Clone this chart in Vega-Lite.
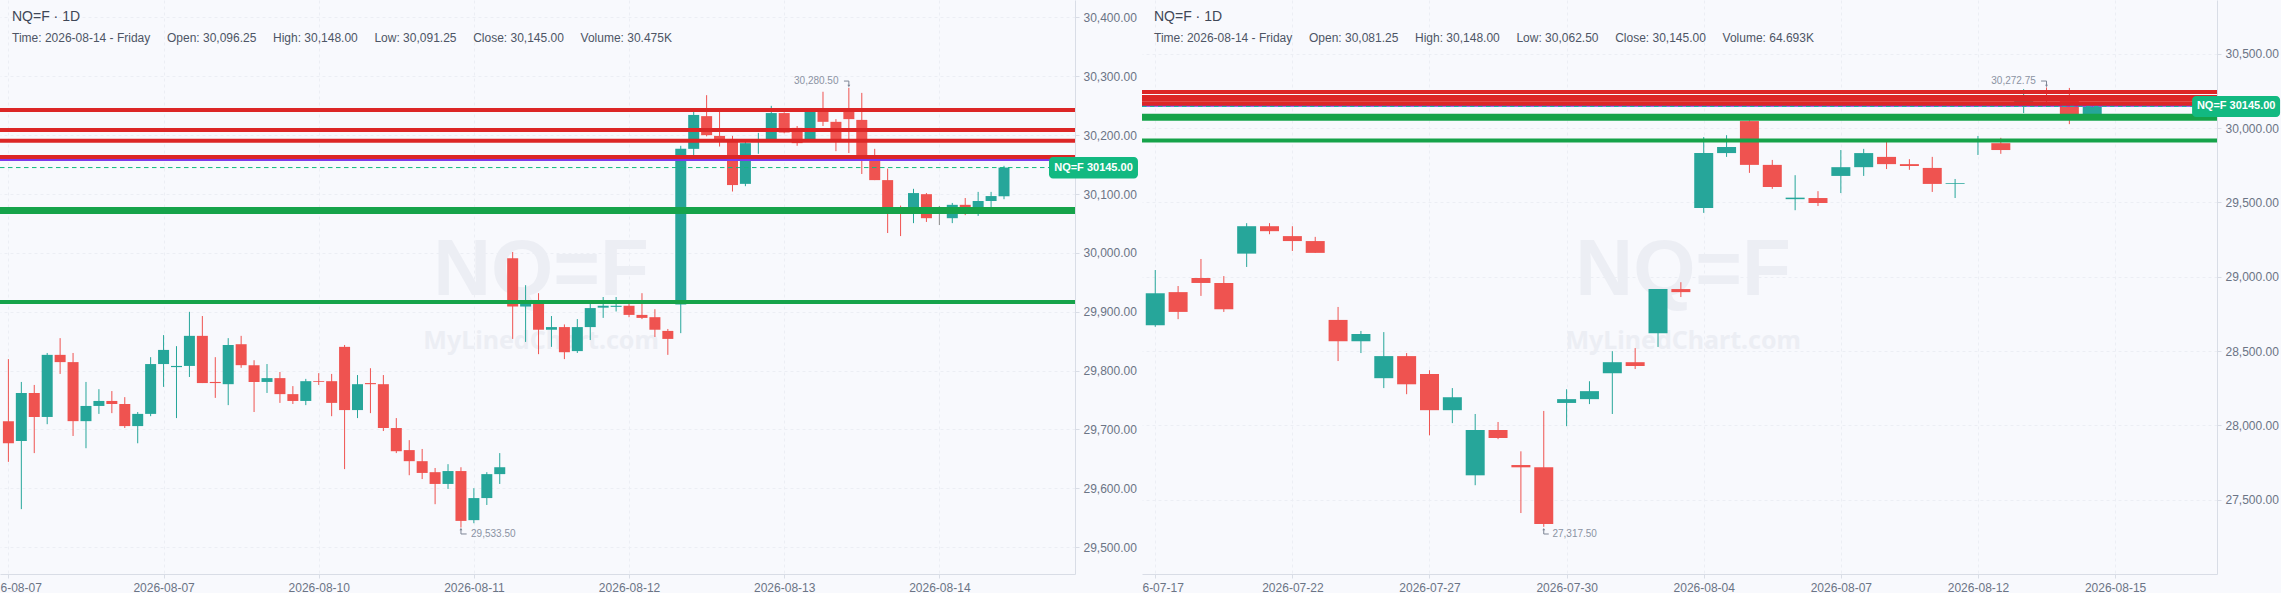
{
  "$schema": "https://vega.github.io/schema/vega-lite/v6.json",
  "background": "#f8f9fd",
  "padding": 0,
  "spacing": 67,
  "bounds": "flush",
  "config": {
    "view": {"stroke": null},
    "font": "Liberation Sans",
    "axis": {
      "title": null,
      "labelFont": "Liberation Sans",
      "labelFontSize": 12,
      "labelColor": "#6b7485",
      "labelOverlap": false,
      "labelBound": false,
      "labelFlush": false,
      "labelPadding": 4,
      "domainColor": "#d9dde6",
      "tickColor": "#d9dde6",
      "tickSize": 4,
      "gridColor": "#eceef4",
      "gridDash": [3, 3]
    },
    "title": {
      "anchor": "start",
      "frame": "group",
      "dx": 12,
      "offset": -44,
      "fontSize": 14,
      "fontWeight": "normal",
      "color": "#3f4757",
      "subtitleFontSize": 12,
      "subtitleColor": "#4d5565",
      "subtitlePadding": 9
    }
  },
  "datasets": {
    "futuresLeft": [
      {"bar":0,"open":29714.2,"high":29819.6,"low":29645.0,"close":29676.6},
      {"bar":1,"open":29680.6,"high":29780.8,"low":29564.7,"close":29762.1},
      {"bar":2,"open":29762.1,"high":29775.7,"low":29659.9,"close":29721.3},
      {"bar":3,"open":29721.3,"high":29830.0,"low":29709.0,"close":29826.8},
      {"bar":4,"open":29826.8,"high":29855.2,"low":29794.4,"close":29814.5},
      {"bar":5,"open":29814.5,"high":29830.0,"low":29689.0,"close":29714.2},
      {"bar":6,"open":29714.2,"high":29780.8,"low":29668.2,"close":29740.0},
      {"bar":7,"open":29740.0,"high":29768.5,"low":29726.5,"close":29748.5},
      {"bar":8,"open":29748.5,"high":29765.3,"low":29727.8,"close":29743.3},
      {"bar":9,"open":29743.3,"high":29755.0,"low":29702.5,"close":29705.8},
      {"bar":10,"open":29705.8,"high":29729.7,"low":29676.6,"close":29726.5},
      {"bar":11,"open":29726.5,"high":29822.9,"low":29722.6,"close":29811.2},
      {"bar":12,"open":29811.2,"high":29860.4,"low":29772.4,"close":29835.2},
      {"bar":13,"open":29806.0,"high":29841.6,"low":29719.4,"close":29808.0},
      {"bar":14,"open":29808.0,"high":29899.9,"low":29789.2,"close":29859.1},
      {"bar":15,"open":29859.1,"high":29892.8,"low":29778.9,"close":29778.9},
      {"bar":16,"open":29780.8,"high":29822.9,"low":29753.7,"close":29778.9},
      {"bar":17,"open":29777.0,"high":29855.2,"low":29741.4,"close":29843.6},
      {"bar":18,"open":29844.9,"high":29859.1,"low":29804.8,"close":29809.3},
      {"bar":19,"open":29809.3,"high":29817.7,"low":29729.7,"close":29780.8},
      {"bar":20,"open":29780.8,"high":29811.2,"low":29762.1,"close":29787.3},
      {"bar":21,"open":29787.3,"high":29797.7,"low":29745.2,"close":29760.1},
      {"bar":22,"open":29760.1,"high":29773.7,"low":29743.3,"close":29748.5},
      {"bar":23,"open":29748.5,"high":29786.0,"low":29741.4,"close":29782.1},
      {"bar":24,"open":29782.1,"high":29795.7,"low":29775.7,"close":29780.8},
      {"bar":25,"open":29782.1,"high":29794.4,"low":29722.6,"close":29745.2},
      {"bar":26,"open":29840.4,"high":29843.6,"low":29632.7,"close":29733.0},
      {"bar":27,"open":29733.0,"high":29792.5,"low":29719.4,"close":29777.0},
      {"bar":28,"open":29778.9,"high":29804.1,"low":29727.8,"close":29777.0},
      {"bar":29,"open":29777.0,"high":29792.5,"low":29697.4,"close":29702.5},
      {"bar":30,"open":29702.5,"high":29719.4,"low":29659.9,"close":29663.1},
      {"bar":31,"open":29665.0,"high":29681.9,"low":29622.3,"close":29646.2},
      {"bar":32,"open":29646.2,"high":29666.9,"low":29615.8,"close":29626.2},
      {"bar":33,"open":29627.5,"high":29634.6,"low":29573.1,"close":29607.5},
      {"bar":34,"open":29607.5,"high":29641.1,"low":29599.0,"close":29629.4},
      {"bar":35,"open":29629.4,"high":29635.9,"low":29533.5,"close":29544.7},
      {"bar":36,"open":29546.0,"high":29600.3,"low":29540.8,"close":29583.5},
      {"bar":37,"open":29583.5,"high":29627.5,"low":29571.8,"close":29624.2},
      {"bar":38,"open":29624.2,"high":29659.9,"low":29607.5,"close":29635.9},
      {"bar":39,"open":29991.1,"high":30001.5,"low":29853.9,"close":29908.9},
      {"bar":40,"open":29908.9,"high":29945.2,"low":29848.8,"close":29915.4},
      {"bar":41,"open":29914.1,"high":29931.6,"low":29828.0,"close":29869.5},
      {"bar":42,"open":29869.5,"high":29892.8,"low":29840.4,"close":29874.0},
      {"bar":43,"open":29874.0,"high":29878.5,"low":29819.6,"close":29831.3},
      {"bar":44,"open":29833.2,"high":29887.6,"low":29830.0,"close":29874.0},
      {"bar":45,"open":29874.0,"high":29913.5,"low":29852.0,"close":29906.3},
      {"bar":46,"open":29907.0,"high":29925.1,"low":29889.6,"close":29910.2},
      {"bar":47,"open":29908.3,"high":29925.1,"low":29900.5,"close":29910.2},
      {"bar":48,"open":29910.2,"high":29914.1,"low":29890.8,"close":29894.7},
      {"bar":49,"open":29894.7,"high":29931.6,"low":29887.6,"close":29889.6},
      {"bar":50,"open":29890.8,"high":29904.4,"low":29857.2,"close":29869.5},
      {"bar":51,"open":29867.5,"high":29870.8,"low":29826.8,"close":29853.9},
      {"bar":52,"open":29912.2,"high":30182.0,"low":29863.7,"close":30176.8},
      {"bar":53,"open":30176.8,"high":30240.8,"low":30165.8,"close":30234.4},
      {"bar":54,"open":30232.4,"high":30268.0,"low":30198.1,"close":30200.1},
      {"bar":55,"open":30198.8,"high":30240.8,"low":30180.7,"close":30191.7},
      {"bar":56,"open":30193.6,"high":30198.8,"low":30104.3,"close":30115.3},
      {"bar":57,"open":30117.3,"high":30190.4,"low":30113.4,"close":30186.5},
      {"bar":58,"open":30189.1,"high":30204.0,"low":30168.4,"close":30193.0},
      {"bar":59,"open":30193.0,"high":30249.9,"low":30189.1,"close":30237.6},
      {"bar":60,"open":30237.6,"high":30238.9,"low":30203.3,"close":30204.6},
      {"bar":61,"open":30212.4,"high":30215.6,"low":30182.0,"close":30186.5},
      {"bar":62,"open":30193.0,"high":30243.4,"low":30189.1,"close":30239.5},
      {"bar":63,"open":30240.8,"high":30273.8,"low":30215.6,"close":30222.7},
      {"bar":64,"open":30222.7,"high":30227.3,"low":30172.9,"close":30193.0},
      {"bar":65,"open":30242.2,"high":30280.5,"low":30169.7,"close":30227.3},
      {"bar":66,"open":30226.0,"high":30271.9,"low":30134.1,"close":30163.2},
      {"bar":67,"open":30161.3,"high":30176.8,"low":30123.7,"close":30123.7},
      {"bar":68,"open":30123.7,"high":30143.2,"low":30033.8,"close":30077.2},
      {"bar":69,"open":30075.9,"high":30080.4,"low":30028.6,"close":30072.0},
      {"bar":70,"open":30067.4,"high":30108.9,"low":30050.6,"close":30101.7},
      {"bar":71,"open":30099.8,"high":30101.7,"low":30052.6,"close":30059.0},
      {"bar":72,"open":30058.4,"high":30079.7,"low":30047.4,"close":30058.4},
      {"bar":73,"open":30059.0,"high":30084.9,"low":30050.6,"close":30081.7},
      {"bar":74,"open":30081.7,"high":30093.3,"low":30064.2,"close":30077.2},
      {"bar":75,"open":30067.4,"high":30103.7,"low":30062.9,"close":30088.2},
      {"bar":76,"open":30088.2,"high":30103.7,"low":30077.2,"close":30096.6},
      {"bar":77,"open":30096.25,"high":30148.0,"low":30091.25,"close":30145.0}
    ],
    "futuresRight": [
      {"bar":0,"open":28673.2,"high":29044.7,"low":28662.9,"close":28888.4},
      {"bar":1,"open":28896.1,"high":28937.1,"low":28714.2,"close":28762.9},
      {"bar":2,"open":28990.9,"high":29119.0,"low":28870.5,"close":28957.6},
      {"bar":3,"open":28957.6,"high":29003.8,"low":28762.9,"close":28780.8},
      {"bar":4,"open":29154.9,"high":29359.9,"low":29065.3,"close":29339.4},
      {"bar":5,"open":29339.4,"high":29359.9,"low":29285.6,"close":29306.0},
      {"bar":6,"open":29272.8,"high":29339.4,"low":29172.9,"close":29239.5},
      {"bar":7,"open":29239.5,"high":29267.7,"low":29160.0,"close":29160.0},
      {"bar":8,"open":28709.1,"high":28796.2,"low":28432.4,"close":28565.6},
      {"bar":9,"open":28565.6,"high":28634.8,"low":28486.2,"close":28614.4},
      {"bar":10,"open":28317.1,"high":28627.1,"low":28250.5,"close":28465.7},
      {"bar":11,"open":28465.7,"high":28486.2,"low":28209.5,"close":28276.1},
      {"bar":12,"open":28345.3,"high":28370.9,"low":27932.8,"close":28101.9},
      {"bar":13,"open":28101.9,"high":28250.5,"low":28014.8,"close":28189.0},
      {"bar":14,"open":27663.8,"high":28076.3,"low":27597.2,"close":27968.7},
      {"bar":15,"open":27968.7,"high":28022.5,"low":27907.2,"close":27914.9},
      {"bar":16,"open":27733.0,"high":27825.2,"low":27410.1,"close":27717.6},
      {"bar":17,"open":27717.6,"high":28096.8,"low":27317.5,"close":27335.8},
      {"bar":18,"open":28150.6,"high":28242.8,"low":27994.3,"close":28176.2},
      {"bar":19,"open":28176.2,"high":28296.6,"low":28142.9,"close":28230.0},
      {"bar":20,"open":28350.4,"high":28499.0,"low":28076.3,"close":28424.7},
      {"bar":21,"open":28424.7,"high":28519.5,"low":28378.6,"close":28399.1},
      {"bar":22,"open":28619.5,"high":28916.7,"low":28527.2,"close":28916.7},
      {"bar":23,"open":28916.7,"high":28962.8,"low":28862.9,"close":28896.1},
      {"bar":24,"open":29462.4,"high":29938.9,"low":29429.1,"close":29831.3},
      {"bar":25,"open":29831.3,"high":29951.7,"low":29805.7,"close":29872.3},
      {"bar":26,"open":30046.5,"high":30051.6,"low":29698.1,"close":29751.9},
      {"bar":27,"open":29751.9,"high":29785.2,"low":29590.5,"close":29603.3},
      {"bar":28,"open":29521.3,"high":29682.7,"low":29447.0,"close":29531.5},
      {"bar":29,"open":29528.9,"high":29575.1,"low":29475.2,"close":29495.7},
      {"bar":30,"open":29677.6,"high":29851.8,"low":29562.3,"close":29736.5},
      {"bar":31,"open":29736.5,"high":29859.5,"low":29677.6,"close":29831.3},
      {"bar":32,"open":29805.7,"high":29908.2,"low":29723.7,"close":29757.0},
      {"bar":33,"open":29757.0,"high":29790.3,"low":29718.6,"close":29744.2},
      {"bar":34,"open":29731.4,"high":29805.7,"low":29570.0,"close":29623.8},
      {"bar":35,"open":29623.8,"high":29657.1,"low":29529.0,"close":29628.9},
      {"bar":36,"open":29905.6,"high":29946.6,"low":29818.5,"close":29918.4},
      {"bar":37,"open":29897.9,"high":29933.8,"low":29826.2,"close":29851.8},
      {"bar":38,"open":30169.5,"high":30261.8,"low":30100.4,"close":30208.0},
      {"bar":39,"open":30220.8,"high":30272.75,"low":30156.7,"close":30182.3},
      {"bar":40,"open":30182.3,"high":30269.5,"low":30026.0,"close":30087.5},
      {"bar":41,"open":30081.25,"high":30148.0,"low":30062.5,"close":30145.0}
    ],
    "levelsLeft": [
      {"price":30158,"kind":"pivot","strength":"minor"},
      {"price":30243,"kind":"resistance","strength":"normal"},
      {"price":30209,"kind":"resistance","strength":"normal"},
      {"price":30190.5,"kind":"resistance","strength":"normal"},
      {"price":30163,"kind":"resistance","strength":"normal"},
      {"price":30072,"kind":"support","strength":"major"},
      {"price":29916.7,"kind":"support","strength":"normal"}
    ],
    "levelsRight": [
      {"price":30150,"kind":"pivot","strength":"minor"},
      {"price":30243,"kind":"resistance","strength":"normal"},
      {"price":30209,"kind":"resistance","strength":"normal"},
      {"price":30190.5,"kind":"resistance","strength":"normal"},
      {"price":30163,"kind":"resistance","strength":"normal"},
      {"price":30072,"kind":"support","strength":"major"},
      {"price":29916.7,"kind":"support","strength":"normal"}
    ],
    "arrowsLeft": [
      {"side":"high","step":0,"bar":64.62,"price":30292},
      {"side":"high","step":1,"bar":65,"price":30292},
      {"side":"high","step":2,"bar":65,"price":30283.5},
      {"side":"low","step":0,"bar":35.44,"price":29522.5},
      {"side":"low","step":1,"bar":35,"price":29522.5},
      {"side":"low","step":2,"bar":35,"price":29531}
    ],
    "arrowsRight": [
      {"side":"high","step":0,"bar":38.76,"price":30316},
      {"side":"high","step":1,"bar":39,"price":30316},
      {"side":"high","step":2,"bar":39,"price":30283},
      {"side":"low","step":0,"bar":17.22,"price":27269},
      {"side":"low","step":1,"bar":17,"price":27269},
      {"side":"low","step":2,"bar":17,"price":27302}
    ],
    "notesLeft": [
      {"side":"high","bar":64.2,"price":30292,"tipBar":65,"tipPrice":30283.5,"label":"30,280.50"},
      {"side":"low","bar":35.78,"price":29522.5,"tipBar":35,"tipPrice":29531,"label":"29,533.50"}
    ],
    "notesRight": [
      {"side":"high","bar":38.53,"price":30316,"tipBar":39,"tipPrice":30283,"label":"30,272.75"},
      {"side":"low","bar":17.38,"price":27269,"tipBar":17,"tipPrice":27302,"label":"27,317.50"}
    ],
    "lastPrice": [{"price":30145,"label":"NQ=F 30145.00"}]
  },
  "hconcat": [
    {
      "width": 1075,
      "height": 574,
      "title": {
        "text": "NQ=F · 1D",
        "subtitle": "Time: 2026-08-14 - Friday\u00a0\u00a0\u00a0\u00a0\u00a0Open: 30,096.25\u00a0\u00a0\u00a0\u00a0\u00a0High: 30,148.00\u00a0\u00a0\u00a0\u00a0\u00a0Low: 30,091.25\u00a0\u00a0\u00a0\u00a0\u00a0Close: 30,145.00\u00a0\u00a0\u00a0\u00a0\u00a0Volume: 30.475K"
      },
      "encoding": {
        "x": {
          "type": "quantitative",
          "scale": {"domain": [-0.65, 82.49], "nice": false, "zero": false, "padding": 0},
          "axis": {
            "values": [0, 12, 24, 36, 48, 60, 72],
            "labelExpr": "['6-08-07','2026-08-07','2026-08-10','2026-08-11','2026-08-12','2026-08-13','2026-08-14'][datum.value/12]",
            "labelAlign": {"expr": "datum.value==0?'left':'center'"},
            "labelOffset": {"expr": "datum.value==0?-8.4:0"},
            "grid": true
          }
        },
        "y": {
          "type": "quantitative",
          "scale": {"domain": [29454.5, 30429.7], "nice": false, "zero": false},
          "axis": {
            "orient": "right",
            "values": [29500, 29600, 29700, 29800, 29900, 30000, 30100, 30200, 30300, 30400],
            "format": ",.2f",
            "grid": true
          }
        }
      },
      "layer": [
        {
          "data": {"values": [{"name": "NQ=F"}]},
          "mark": {"type": "text", "fontSize": 80, "fontWeight": "bold", "color": "#eceef4", "align": "center", "baseline": "middle"},
          "encoding": {"x": {"datum": 41.2}, "y": {"datum": 29969}, "text": {"field": "name"}}
        },
        {
          "data": {"values": [{"name": "MyLinedChart.com"}]},
          "mark": {"type": "text", "font": "Noto Sans", "fontSize": 25, "fontWeight": "bold", "color": "#eceef4", "align": "center", "baseline": "middle"},
          "encoding": {"x": {"datum": 41.2}, "y": {"datum": 29850}, "text": {"field": "name"}}
        },
        {
          "data": {"name": "futuresLeft"},
          "mark": {"type": "rule", "strokeWidth": 1},
          "encoding": {
            "x": {"field": "bar"},
            "y": {"field": "low"},
            "y2": {"field": "high"},
            "color": {"condition": [{"test": "datum.close==datum.open", "value": "#8a8a8a"}, {"test": "datum.close>datum.open", "value": "#26a69a"}], "value": "#ef5350"}
          }
        },
        {
          "data": {"name": "futuresLeft"},
          "mark": {"type": "bar", "size": 11},
          "encoding": {
            "x": {"field": "bar"},
            "y": {"field": "open"},
            "y2": {"field": "close"},
            "color": {"condition": [{"test": "datum.close==datum.open", "value": "#8a8a8a"}, {"test": "datum.close>datum.open", "value": "#26a69a"}], "value": "#ef5350"}
          }
        },
        {
          "data": {"name": "levelsLeft"},
          "mark": {"type": "rule", "clip": true},
          "encoding": {
            "x": null,
            "y": {"field": "price"},
            "color": {"field": "kind", "type": "nominal", "scale": {"domain": ["resistance", "support", "pivot"], "range": ["#dc2626", "#16a34a", "#7c3aed"]}, "legend": null},
            "strokeWidth": {"field": "strength", "type": "ordinal", "scale": {"type": "ordinal", "domain": ["minor", "normal", "major"], "range": [2, 4, 7]}, "legend": null}
          }
        },
        {
          "data": {"name": "lastPrice"},
          "mark": {"type": "rule", "clip": true, "color": "#10b981", "strokeWidth": 1, "strokeDash": [4.5, 3.5]},
          "encoding": {"x": {"datum": -0.65}, "x2": {"datum": 80.5}, "y": {"field": "price"}}
        },
        {
          "data": {"name": "arrowsLeft"},
          "mark": {"type": "line", "color": "#7d8595", "strokeWidth": 1},
          "encoding": {"x": {"field": "bar"}, "y": {"field": "price"}, "detail": {"field": "side"}, "order": {"field": "step"}}
        },
        {
          "data": {"name": "notesLeft"},
          "mark": {"type": "point", "filled": true, "size": 8, "opacity": 1, "color": "#7d8595"},
          "encoding": {
            "x": {"field": "tipBar"},
            "y": {"field": "tipPrice"},
            "shape": {"field": "side", "type": "nominal", "scale": {"domain": ["high", "low"], "range": ["triangle-down", "triangle-up"]}, "legend": null}
          }
        },
        {
          "data": {"name": "notesLeft"},
          "transform": [{"filter": "datum.side=='high'"}],
          "mark": {"type": "text", "fontSize": 10, "color": "#8b93a3", "align": "right", "baseline": "middle"},
          "encoding": {"x": {"field": "bar"}, "y": {"field": "price"}, "text": {"field": "label"}}
        },
        {
          "data": {"name": "notesLeft"},
          "transform": [{"filter": "datum.side=='low'"}],
          "mark": {"type": "text", "fontSize": 10, "color": "#8b93a3", "align": "left", "baseline": "middle"},
          "encoding": {"x": {"field": "bar"}, "y": {"field": "price"}, "text": {"field": "label"}}
        },
        {
          "data": {"name": "lastPrice"},
          "mark": {"type": "rect", "color": "#12b981", "cornerRadius": 4},
          "encoding": {"x": {"datum": 80.48}, "x2": {"datum": 87.36}, "y": {"datum": 30126.3}, "y2": {"datum": 30163}}
        },
        {
          "data": {"name": "lastPrice"},
          "mark": {"type": "text", "color": "#ffffff", "fontSize": 11, "fontWeight": "bold", "align": "center", "baseline": "middle"},
          "encoding": {"x": {"datum": 83.92}, "y": {"field": "price"}, "text": {"field": "label"}}
        }
      ]
    },
    {
      "width": 1075,
      "height": 574,
      "title": {
        "text": "NQ=F · 1D",
        "subtitle": "Time: 2026-08-14 - Friday\u00a0\u00a0\u00a0\u00a0\u00a0Open: 30,081.25\u00a0\u00a0\u00a0\u00a0\u00a0High: 30,148.00\u00a0\u00a0\u00a0\u00a0\u00a0Low: 30,062.50\u00a0\u00a0\u00a0\u00a0\u00a0Close: 30,145.00\u00a0\u00a0\u00a0\u00a0\u00a0Volume: 64.693K"
      },
      "encoding": {
        "x": {
          "type": "quantitative",
          "scale": {"domain": [-0.58, 46.46], "nice": false, "zero": false, "padding": 0},
          "axis": {
            "values": [0, 6, 12, 18, 24, 30, 36, 42],
            "labelExpr": "['6-07-17','2026-07-22','2026-07-27','2026-07-30','2026-08-04','2026-08-07','2026-08-12','2026-08-15'][datum.value/6]",
            "labelAlign": {"expr": "datum.value==0?'left':'center'"},
            "labelOffset": {"expr": "datum.value==0?-13.3:0"},
            "grid": true
          }
        },
        "y": {
          "type": "quantitative",
          "scale": {"domain": [27000, 30861], "nice": false, "zero": false},
          "axis": {
            "orient": "right",
            "values": [27500, 28000, 28500, 29000, 29500, 30000, 30500],
            "format": ",.2f",
            "grid": true
          }
        }
      },
      "layer": [
        {
          "data": {"values": [{"name": "NQ=F"}]},
          "mark": {"type": "text", "fontSize": 80, "fontWeight": "bold", "color": "#eceef4", "align": "center", "baseline": "middle"},
          "encoding": {"x": {"datum": 23.1}, "y": {"datum": 29038}, "text": {"field": "name"}}
        },
        {
          "data": {"values": [{"name": "MyLinedChart.com"}]},
          "mark": {"type": "text", "font": "Noto Sans", "fontSize": 25, "fontWeight": "bold", "color": "#eceef4", "align": "center", "baseline": "middle"},
          "encoding": {"x": {"datum": 23.1}, "y": {"datum": 28567}, "text": {"field": "name"}}
        },
        {
          "data": {"name": "futuresRight"},
          "mark": {"type": "rule", "strokeWidth": 1},
          "encoding": {
            "x": {"field": "bar"},
            "y": {"field": "low"},
            "y2": {"field": "high"},
            "color": {"condition": [{"test": "datum.close==datum.open", "value": "#8a8a8a"}, {"test": "datum.close>datum.open", "value": "#26a69a"}], "value": "#ef5350"}
          }
        },
        {
          "data": {"name": "futuresRight"},
          "mark": {"type": "bar", "size": 19},
          "encoding": {
            "x": {"field": "bar"},
            "y": {"field": "open"},
            "y2": {"field": "close"},
            "color": {"condition": [{"test": "datum.close==datum.open", "value": "#8a8a8a"}, {"test": "datum.close>datum.open", "value": "#26a69a"}], "value": "#ef5350"}
          }
        },
        {
          "data": {"name": "levelsRight"},
          "mark": {"type": "rule", "clip": true},
          "encoding": {
            "x": null,
            "y": {"field": "price"},
            "color": {"field": "kind", "type": "nominal", "scale": {"domain": ["resistance", "support", "pivot"], "range": ["#dc2626", "#16a34a", "#7c3aed"]}, "legend": null},
            "strokeWidth": {"field": "strength", "type": "ordinal", "scale": {"type": "ordinal", "domain": ["minor", "normal", "major"], "range": [2, 4, 5]}, "legend": null}
          }
        },
        {
          "data": {"name": "lastPrice"},
          "mark": {"type": "rule", "clip": true, "color": "#14b8a6", "strokeWidth": 1, "strokeDash": [4.5, 3.5]},
          "encoding": {"x": {"datum": -0.58}, "x2": {"datum": 45.4}, "y": {"field": "price"}}
        },
        {
          "data": {"name": "arrowsRight"},
          "mark": {"type": "line", "color": "#7d8595", "strokeWidth": 1},
          "encoding": {"x": {"field": "bar"}, "y": {"field": "price"}, "detail": {"field": "side"}, "order": {"field": "step"}}
        },
        {
          "data": {"name": "notesRight"},
          "mark": {"type": "point", "filled": true, "size": 8, "opacity": 1, "color": "#7d8595"},
          "encoding": {
            "x": {"field": "tipBar"},
            "y": {"field": "tipPrice"},
            "shape": {"field": "side", "type": "nominal", "scale": {"domain": ["high", "low"], "range": ["triangle-down", "triangle-up"]}, "legend": null}
          }
        },
        {
          "data": {"name": "notesRight"},
          "transform": [{"filter": "datum.side=='high'"}],
          "mark": {"type": "text", "fontSize": 10, "color": "#8b93a3", "align": "right", "baseline": "middle"},
          "encoding": {"x": {"field": "bar"}, "y": {"field": "price"}, "text": {"field": "label"}}
        },
        {
          "data": {"name": "notesRight"},
          "transform": [{"filter": "datum.side=='low'"}],
          "mark": {"type": "text", "fontSize": 10, "color": "#8b93a3", "align": "left", "baseline": "middle"},
          "encoding": {"x": {"field": "bar"}, "y": {"field": "price"}, "text": {"field": "label"}}
        },
        {
          "data": {"name": "lastPrice"},
          "mark": {"type": "rect", "color": "#12b981", "cornerRadius": 4},
          "encoding": {"x": {"datum": 45.37}, "x2": {"datum": 49.22}, "y": {"datum": 30074}, "y2": {"datum": 30215}}
        },
        {
          "data": {"name": "lastPrice"},
          "mark": {"type": "text", "color": "#ffffff", "fontSize": 11, "fontWeight": "bold", "align": "center", "baseline": "middle"},
          "encoding": {"x": {"datum": 47.3}, "y": {"field": "price"}, "text": {"field": "label"}}
        }
      ]
    }
  ]
}
